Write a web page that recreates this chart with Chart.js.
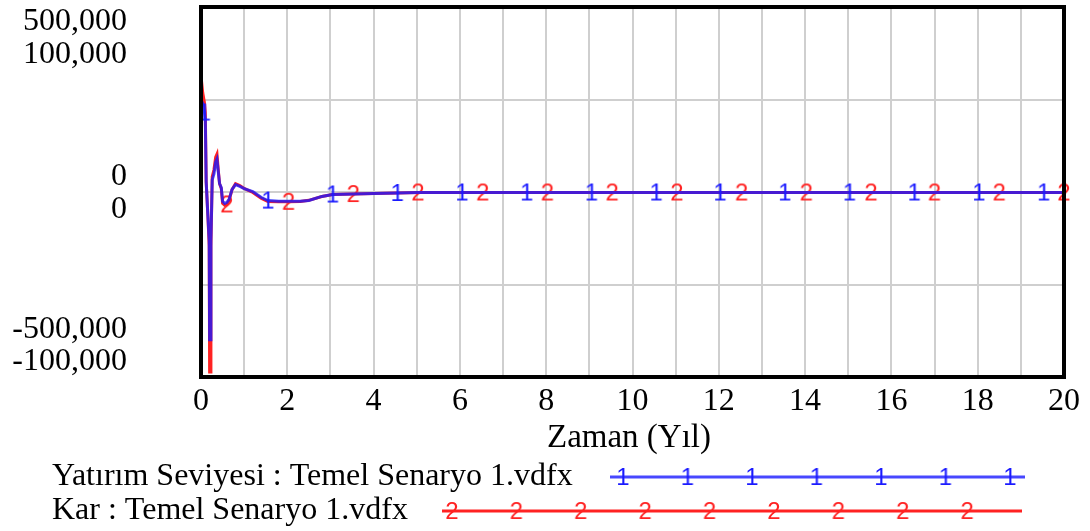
<!DOCTYPE html>
<html><head><meta charset="utf-8">
<script src="https://cdn.jsdelivr.net/npm/chart.js@4.4.0/dist/chart.umd.min.js"></script>
<style>html,body{margin:0;padding:0;background:#fff}#wrap{width:1090px;height:531px;position:relative}</style>
</head><body><div id="wrap"><canvas id="c" width="1090" height="531"></canvas></div>
<script>
// ---- data ----
const times = [0,0.04,0.08,0.1,0.12,0.16,0.19,0.2,0.21,0.23,0.26,0.3,0.34,0.37,0.4,0.43,0.47,0.5,0.55,0.6,0.65,0.72,0.8,0.9,1.0,1.2,1.4,1.55,1.8,2.03,2.3,2.5,2.8,3.05,3.53,4.0,4.55,5.03,6.05,6.53,7.55,8.03,9.05,9.53,10.55,11.03,12.03,12.53,13.53,14.03,15.03,15.53,16.53,17.0,18.03,18.5,19.53,20];
const yatirimSeviyesi = [249000,239000,215000,193000,28000,-65000,-132000,-399000,-399000,-132000,33000,49000,81000,89000,55000,23000,12000,-25000,-31000,-28000,-20000,7000,20000,15000,9000,1300,-15000,-23000,-25000,-25000,-25000,-23000,-12000,-6700,-5300,-4000,-2700,-1300,-1300,-1300,-1300,-1300,-1300,-1300,-1300,-1300,-1300,-1300,-1300,-1300,-1300,-1300,-1300,-1300,-1300,-1300,-1300,-1300];
const kar = [62700,53600,48300,42900,5600,-13100,-29100,-97300,-97300,-29100,8300,12000,18900,20500,12000,4500,1900,-6100,-7200,-6700,-4500,1300,4500,3500,1900,-270,-3500,-5100,-5300,-5300,-5100,-4500,-2400,-1300,-1100,-800,-530,-270,-270,-270,-270,-270,-270,-270,-270,-270,-270,-270,-270,-270,-270,-270,-270,-270,-270,-270,-270,-270];
const markerTimes1 = [0.08,1.55,3.05,4.55,6.05,7.55,9.05,10.55,12.03,13.53,15.03,16.53,18.03,19.53];
const markerTimes2 = [0.6,2.03,3.53,5.03,6.53,8.03,9.53,11.03,12.53,14.03,15.53,17.0,18.5,20];
const xTickValues = [0,2,4,6,8,10,12,14,16,18,20];
const yTickLabels1 = ['500,000','0','-500,000'];
const yTickLabels2 = ['100,000','0','-100,000'];
const yTickValues1 = [500000,0,-500000];
const seriesNames = ['Yatırım Seviyesi : Temel Senaryo 1.vdfx','Kar : Temel Senaryo 1.vdfx'];
const xTitle = 'Zaman (Yıl)';

const BLUE = 'rgba(25,25,255,0.8)';
const RED = '#ff2222';
const SERIF = '"Liberation Serif","Times New Roman",serif';

function glyph(ch, color){
  const c = document.createElement('canvas');
  c.width = 18; c.height = 26;
  const g = c.getContext('2d');
  g.font = '24px "Liberation Sans", Arial, sans-serif';
  g.fillStyle = color; g.textAlign = 'center'; g.textBaseline = 'middle';
  g.fillText(ch, 9, 14);
  return c;
}
const g1 = glyph('1', '#1a1aff');
const g2 = glyph('2', '#ff2222');

function isMarker(list, t){ return list.some(m => Math.abs(m - t) < 1e-9); }

const decor = {
  id: 'decor',
  afterDraw(chart){
    const ctx = chart.ctx, a = chart.chartArea;
    const ys = chart.scales.y;
    ctx.save();
    ctx.strokeStyle = '#000'; ctx.lineWidth = 4;
    ctx.strokeRect(a.left, a.top, a.right - a.left, a.bottom - a.top);
    ctx.fillStyle = '#000'; ctx.font = '32px ' + SERIF;
    ctx.textAlign = 'right'; ctx.textBaseline = 'middle';
    const offs = [[15,48],[-15.5,17.5],[-47,-15]];
    yTickValues1.forEach((v,i) => {
      const p = ys.getPixelForValue(v);
      ctx.fillText(yTickLabels1[i], 127, p + offs[i][0]);
      ctx.fillText(yTickLabels2[i], 127, p + offs[i][1]);
    });
    ctx.textAlign = 'center';
    ctx.font = '33px ' + SERIF;
    ctx.fillText(xTitle, 629, 438);
    ctx.font = '32px ' + SERIF;
    ctx.textAlign = 'left';
    ctx.fillText(seriesNames[0], 52, 477);
    ctx.fillText(seriesNames[1], 52, 511);
    ctx.lineWidth = 3;
    ctx.strokeStyle = BLUE;
    ctx.beginPath(); ctx.moveTo(610, 477); ctx.lineTo(1025, 477); ctx.stroke();
    for (let i = 0; i < 7; i++) ctx.drawImage(g1, 623 + i*64.5 - 9, 477 - 13);
    ctx.strokeStyle = RED;
    ctx.beginPath(); ctx.moveTo(442, 511); ctx.lineTo(1022, 511); ctx.stroke();
    for (let i = 0; i < 9; i++) ctx.drawImage(g2, 452 + i*64.4 - 9, 511 - 13);
    ctx.restore();
  }
};

new Chart(document.getElementById('c'), {
  type: 'line',
  data: {
    datasets: [
      {
        label: seriesNames[0], yAxisID: 'y',
        data: times.map((t,i) => ({x: t, y: yatirimSeviyesi[i]})),
        borderColor: BLUE, borderWidth: 3, tension: 0, clip: 10,
        pointStyle: ctx => isMarker(markerTimes1, times[ctx.dataIndex]) ? g1 : false,
        pointRadius: ctx => isMarker(markerTimes1, times[ctx.dataIndex]) ? 4 : 0
      },
      {
        label: seriesNames[1], yAxisID: 'y2',
        data: times.map((t,i) => ({x: t, y: kar[i]})),
        borderColor: RED, borderWidth: 3, tension: 0, clip: 10,
        pointStyle: ctx => isMarker(markerTimes2, times[ctx.dataIndex]) ? g2 : false,
        pointRadius: ctx => isMarker(markerTimes2, times[ctx.dataIndex]) ? 4 : 0
      }
    ]
  },
  options: {
    responsive: false, animation: false, events: [],
    layout: { padding: { top: 4, right: 26, left: 0, bottom: 0 } },
    plugins: { legend: { display: false }, tooltip: { enabled: false } },
    scales: {
      x: {
        type: 'linear', min: 0, max: 20,
        afterFit: s => { s.height = 154; },
        afterBuildTicks: s => { s.ticks = Array.from({length: 21}, (_, i) => ({value: i})); },
        ticks: {
          autoSkip: false, maxRotation: 0, padding: 5, color: '#000',
          font: { family: SERIF, size: 32 },
          callback: v => xTickValues.includes(v) ? String(v) : ''
        },
        grid: { color: '#cfcfcf', lineWidth: 2, drawTicks: false },
        border: { display: false }
      },
      y: {
        min: -500000, max: 500000,
        afterFit: s => { s.width = 201; },
        afterBuildTicks: s => { s.ticks = [-500000,-250000,0,250000,500000].map(v => ({value: v})); },
        ticks: { display: false },
        grid: { color: '#cfcfcf', lineWidth: 2, drawTicks: false },
        border: { display: false }
      },
      y2: { min: -100000, max: 100000, display: false }
    }
  },
  plugins: [decor]
});
</script></body></html>
